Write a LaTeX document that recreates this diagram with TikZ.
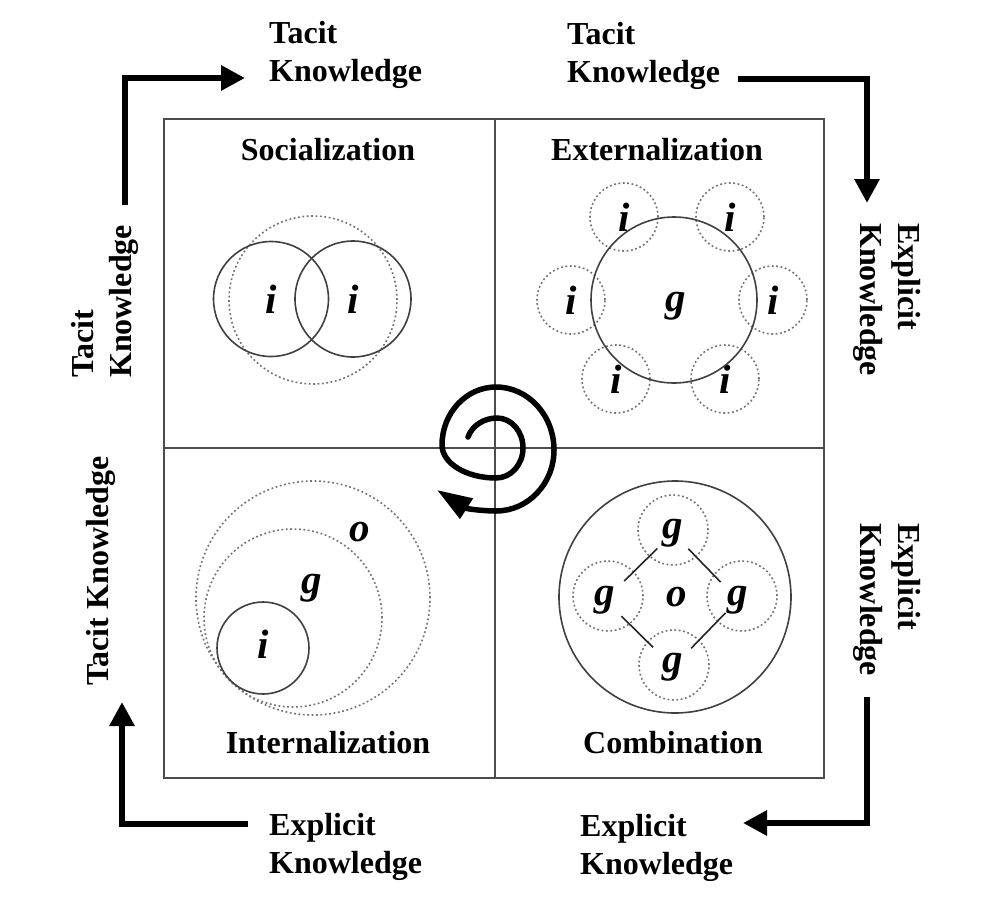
\documentclass[tikz,border=0pt]{standalone}
\usepackage{fontspec}
\setmainfont{Liberation Serif}
\usetikzlibrary{arrows.meta}
\begin{document}
\begin{tikzpicture}[x=1pt,y=-1pt,
  lbl/.style={font=\fontsize{32}{38}\selectfont\bfseries, inner sep=0pt, align=left},
  ttl/.style={font=\fontsize{32}{38}\selectfont\bfseries, inner sep=0pt, anchor=base},
  let/.style={font=\fontsize{41}{41}\selectfont\bfseries\itshape, inner sep=0pt},
  solidc/.style={circle, draw=black!75, line width=1.6pt, inner sep=0pt},
  dotc/.style={circle, draw=black!55, dash pattern=on 1.8pt off 2.6pt, line width=1.6pt, inner sep=0pt},
  sq/.style={draw=black!70, line width=1.6pt},
  karrow/.style={line width=6pt, -{Triangle[length=24pt,width=24pt]}},
  spir/.style={line width=5.5pt, line cap=round, -{Triangle[length=35pt,width=23pt]}},
  link/.style={draw=black!85, line width=1.6pt}
]
\fill[white] (0,0) rectangle (990,908);
\useasboundingbox (0,0) rectangle (990,908);

% frame
\draw[sq] (164,119) rectangle (824,778);
\draw[sq] (495,119) -- (495,778);
\draw[sq] (164,448) -- (824,448);

% quadrant titles
\node[ttl] (tsoc) at (328,160) {Socialization};
\node[ttl] (text) at (657,160) {Externalization};
\node[ttl] (tint) at (328,753) {Internalization};
\node[ttl] (tcom) at (673,753) {Combination};

% outer labels
\node[lbl, anchor=north west] (lTL) at (269,21) {Tacit\\Knowledge};
\node[lbl, anchor=north west] (lTR) at (567,22) {Tacit\\Knowledge};
\node[lbl, anchor=north west] (lBL) at (269,813) {Explicit\\Knowledge};
\node[lbl, anchor=north west] (lBR) at (580,814) {Explicit\\Knowledge};
\node[lbl, rotate=-90, anchor=north west] (lRU) at (921,223) {Explicit\\Knowledge};
\node[lbl, rotate=-90, anchor=north west] (lRL) at (921,523) {Explicit\\Knowledge};
\node[lbl, rotate=90, anchor=north west] (lLU) at (71,378) {Tacit\\Knowledge};
\node[lbl, rotate=90, anchor=north west] (lLL) at (86,686) {Tacit Knowledge};

% knowledge arrows
\coordinate (a1s) at (125,205); \coordinate (a1e) at (245,78);
\coordinate (a2s) at (738,79);  \coordinate (a2e) at (867,203);
\coordinate (a3s) at (867,697); \coordinate (a3e) at (743,823);
\coordinate (a4s) at (248,824); \coordinate (a4e) at (122,702);
\draw[karrow] (a1s) |- (a1e);
\draw[karrow] (a2s) -| (a2e);
\draw[karrow] (a3s) |- (a3e);
\draw[karrow] (a4s) -| (a4e);

% Socialization
\node[dotc, minimum size=168pt] (sdot) at (313,300) {};
\node[solidc, let, minimum size=115pt] (si1) at (271,299) {i};
\node[solidc, let, minimum size=116pt] (si2) at (353,299) {i};

% Externalization
\node[dotc, let, minimum size=68pt] (ei1) at (624,217) {i};
\node[dotc, let, minimum size=68pt] (ei2) at (730,217) {i};
\node[dotc, let, minimum size=68pt] (ei3) at (571,300) {i};
\node[dotc, let, minimum size=68pt] (ei4) at (773,300) {i};
\node[dotc, let, minimum size=68pt] (ei5) at (616,379) {i};
\node[dotc, let, minimum size=68pt] (ei6) at (725,379) {i};
\node[solidc, minimum size=166pt] (egc) at (674,300) {};
\node[let] (eg) at (676,306) {g};

% Internalization
\node[dotc, minimum size=234pt] (ioc) at (313,598) {};
\node[dotc, minimum size=178pt] (igc) at (293,618) {};
\node[solidc, minimum size=92pt] (iic) at (263,648) {};
\node[let] (io) at (360,532) {o};
\node[let] (ig) at (312,588) {g};
\node[let] (ii) at (263,644) {i};

% Combination
\node[solidc, minimum size=232pt] (cbc) at (675,597) {};
\node[dotc, minimum size=70pt] (cct) at (673,530) {};
\node[dotc, minimum size=70pt] (ccl) at (608,596) {};
\node[dotc, minimum size=70pt] (ccr) at (742,596) {};
\node[dotc, minimum size=70pt] (ccb) at (674,665) {};
\node[let] (cgt) at (673,533) {g};
\node[let] (cgl) at (605,600) {g};
\node[let] (cgr) at (738,600) {g};
\node[let] (cgb) at (673,667) {g};
\node[let] (co) at (677,597) {o};
\draw[link, shorten <=22pt, shorten >=27pt] (cgt.center) -- (cgl.center);
\draw[link, shorten <=22pt, shorten >=25pt] (cgt.center) -- (cgr.center);
\draw[link, shorten <=23pt, shorten >=28pt] (cgl.center) -- (cgb.center);
\draw[link, shorten <=26pt, shorten >=18pt] (cgb.center) -- (cgr.center);

% spiral
\draw[spir] (468,437) .. controls (472.3,425.2) and (484.4,418) .. (497,418)
  .. controls (511.4,418) and (523,431.4) .. (523,448)
  .. controls (523,464.6) and (510.9,478) .. (496,478)
  .. controls (466.2,478) and (442,463.2) .. (442,445)
  .. controls (442,413) and (466.2,387) .. (496,387)
  .. controls (528,387) and (554,415.2) .. (554,450)
  .. controls (554,483.7) and (528,511) .. (496,511)
  .. controls (484,511) and (467,509) .. (437,490);
\end{tikzpicture}
\end{document}
